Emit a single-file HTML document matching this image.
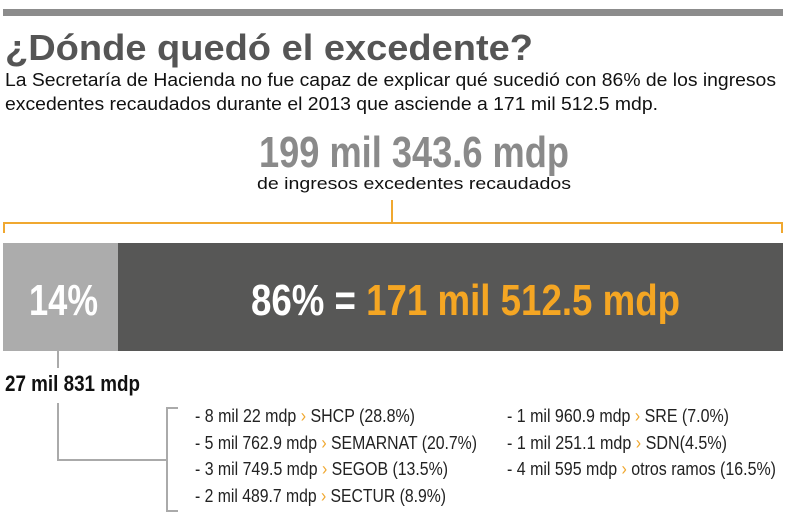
<!DOCTYPE html>
<html><head><meta charset="utf-8"><style>
html,body{margin:0;padding:0;background:#fff;width:788px;height:525px;overflow:hidden}
text{font-family:"Liberation Sans Narrow","Liberation Sans",sans-serif}
.w{font-family:"Liberation Sans",sans-serif}
</style></head><body>
<svg width="788" height="525" viewBox="0 0 788 525" xmlns="http://www.w3.org/2000/svg">
<rect x="3" y="9" width="780" height="7" fill="#8c8c8c"/>
<text class="w" x="5" y="60" font-size="36" font-weight="bold" fill="#555" textLength="528" lengthAdjust="spacingAndGlyphs">¿Dónde quedó el excedente?</text>
<text class="w" x="5" y="86" font-size="18" fill="#111" textLength="771" lengthAdjust="spacingAndGlyphs">La Secretaría de Hacienda no fue capaz de explicar qué sucedió con 86% de los ingresos</text>
<text class="w" x="5" y="110" font-size="18" fill="#111" textLength="653" lengthAdjust="spacingAndGlyphs">excedentes recaudados durante el 2013 que asciende a 171 mil 512.5 mdp.</text>
<text x="259" y="167" font-size="44" font-weight="bold" fill="#8a8a8a" textLength="310" lengthAdjust="spacingAndGlyphs">199 mil 343.6 mdp</text>
<text class="w" x="257" y="189" font-size="17" fill="#111" textLength="314" lengthAdjust="spacingAndGlyphs">de ingresos excedentes recaudados</text>
<g stroke="#f0a830" stroke-width="2" fill="none">
<path d="M4 233 V223 H782 V233"/>
<path d="M392 200 V223"/>
</g>
<rect x="3" y="243" width="115" height="108" fill="#acacac"/>
<rect x="118" y="243" width="665" height="108" fill="#575756"/>
<text x="29" y="315" font-size="44" font-weight="bold" fill="#fff" textLength="69" lengthAdjust="spacingAndGlyphs">14%</text>
<text x="251" y="315" font-size="44" font-weight="bold" fill="#fff" textLength="429" lengthAdjust="spacingAndGlyphs">86% = <tspan fill="#f5a623">171 mil 512.5 mdp</tspan></text>
<g stroke="#aaa" stroke-width="2" fill="none">
<path d="M58 351 V368"/>
<path d="M58 403 V460 H167"/>
<path d="M178 408 H167 V511 H178"/>
</g>
<text x="5" y="391" font-size="22" font-weight="bold" fill="#111" textLength="135" lengthAdjust="spacingAndGlyphs">27 mil 831 mdp</text>
<g font-size="18" fill="#222">
<text x="195" y="422" textLength="220" lengthAdjust="spacingAndGlyphs">- 8 mil 22 mdp <tspan fill="#f0a830">›</tspan> SHCP (28.8%)</text>
<text x="195" y="449" textLength="282" lengthAdjust="spacingAndGlyphs">- 5 mil 762.9 mdp <tspan fill="#f0a830">›</tspan> SEMARNAT (20.7%)</text>
<text x="195" y="475" textLength="253" lengthAdjust="spacingAndGlyphs">- 3 mil 749.5 mdp <tspan fill="#f0a830">›</tspan> SEGOB (13.5%)</text>
<text x="195" y="502" textLength="251" lengthAdjust="spacingAndGlyphs">- 2 mil 489.7 mdp <tspan fill="#f0a830">›</tspan> SECTUR (8.9%)</text>
<text x="507" y="422" textLength="222" lengthAdjust="spacingAndGlyphs">- 1 mil 960.9 mdp <tspan fill="#f0a830">›</tspan> SRE (7.0%)</text>
<text x="507" y="449" textLength="220" lengthAdjust="spacingAndGlyphs">- 1 mil 251.1 mdp <tspan fill="#f0a830">›</tspan> SDN(4.5%)</text>
<text x="507" y="475" textLength="269" lengthAdjust="spacingAndGlyphs">- 4 mil 595 mdp <tspan fill="#f0a830">›</tspan> otros ramos (16.5%)</text>
</g>
</svg>
</body></html>
